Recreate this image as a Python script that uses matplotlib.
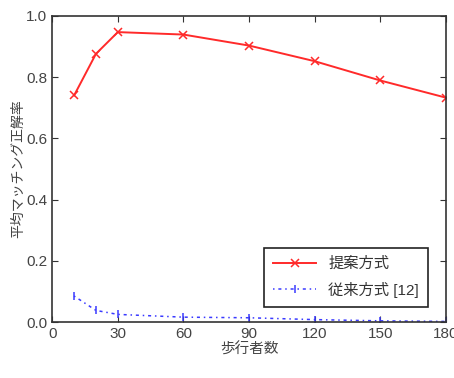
import matplotlib
matplotlib.use('Agg')
import matplotlib.pyplot as plt

plt.rcParams['font.family'] = ['Liberation Sans', 'Noto Sans CJK JP', 'DejaVu Sans']

walkers = [10, 20, 30, 60, 90, 120, 150, 180]
proposed = [0.740, 0.876, 0.947, 0.939, 0.903, 0.852, 0.789, 0.733]
previous = [0.085, 0.038, 0.025, 0.016, 0.014, 0.008, 0.004, 0.002]

fig = plt.figure(figsize=(4.54, 3.78), dpi=100)
ax = fig.add_axes([0.115, 0.148, 0.867, 0.81])

ax.plot(walkers, proposed, color='#ff2a2a', marker='x', markersize=6, mew=1.1,
        lw=1.4, label='提案方式')
ax.plot(walkers, previous, color='#3a3aff', marker='|', markersize=6, mew=1.1,
        lw=1.1, ls=(0, (1, 2.5, 2, 2.5)), label='従来方式 [12]')

ax.set_xlim(0, 180)
ax.set_ylim(0, 1.0)
ax.set_xticks([0, 30, 60, 90, 120, 150, 180])
ax.set_yticks([0.0, 0.2, 0.4, 0.6, 0.8, 1.0])
ax.set_yticklabels(['0.0', '0.2', '0.4', '0.6', '0.8', '1.0'])
ax.tick_params(direction='in', top=True, right=True, labelsize=11, length=4,
               colors='#333333', labelcolor='#444444')
for s in ax.spines.values():
    s.set_color('#333333')
    s.set_linewidth(1.2)

ax.set_xlabel('歩行者数', fontsize=10.5, color='#444444', labelpad=1)
ax.set_ylabel('平均マッチング正解率', fontsize=10, color='#444444', labelpad=1)

leg = ax.legend(loc='lower right', bbox_to_anchor=(0.975, 0.025), fontsize=11,
                fancybox=False, framealpha=1, edgecolor='#222222',
                handlelength=2.8, borderpad=0.6, labelspacing=0.7)
leg.get_frame().set_linewidth(1.2)
for t in leg.get_texts():
    t.set_color('#333333')

fig.savefig('out.png', dpi=100)
